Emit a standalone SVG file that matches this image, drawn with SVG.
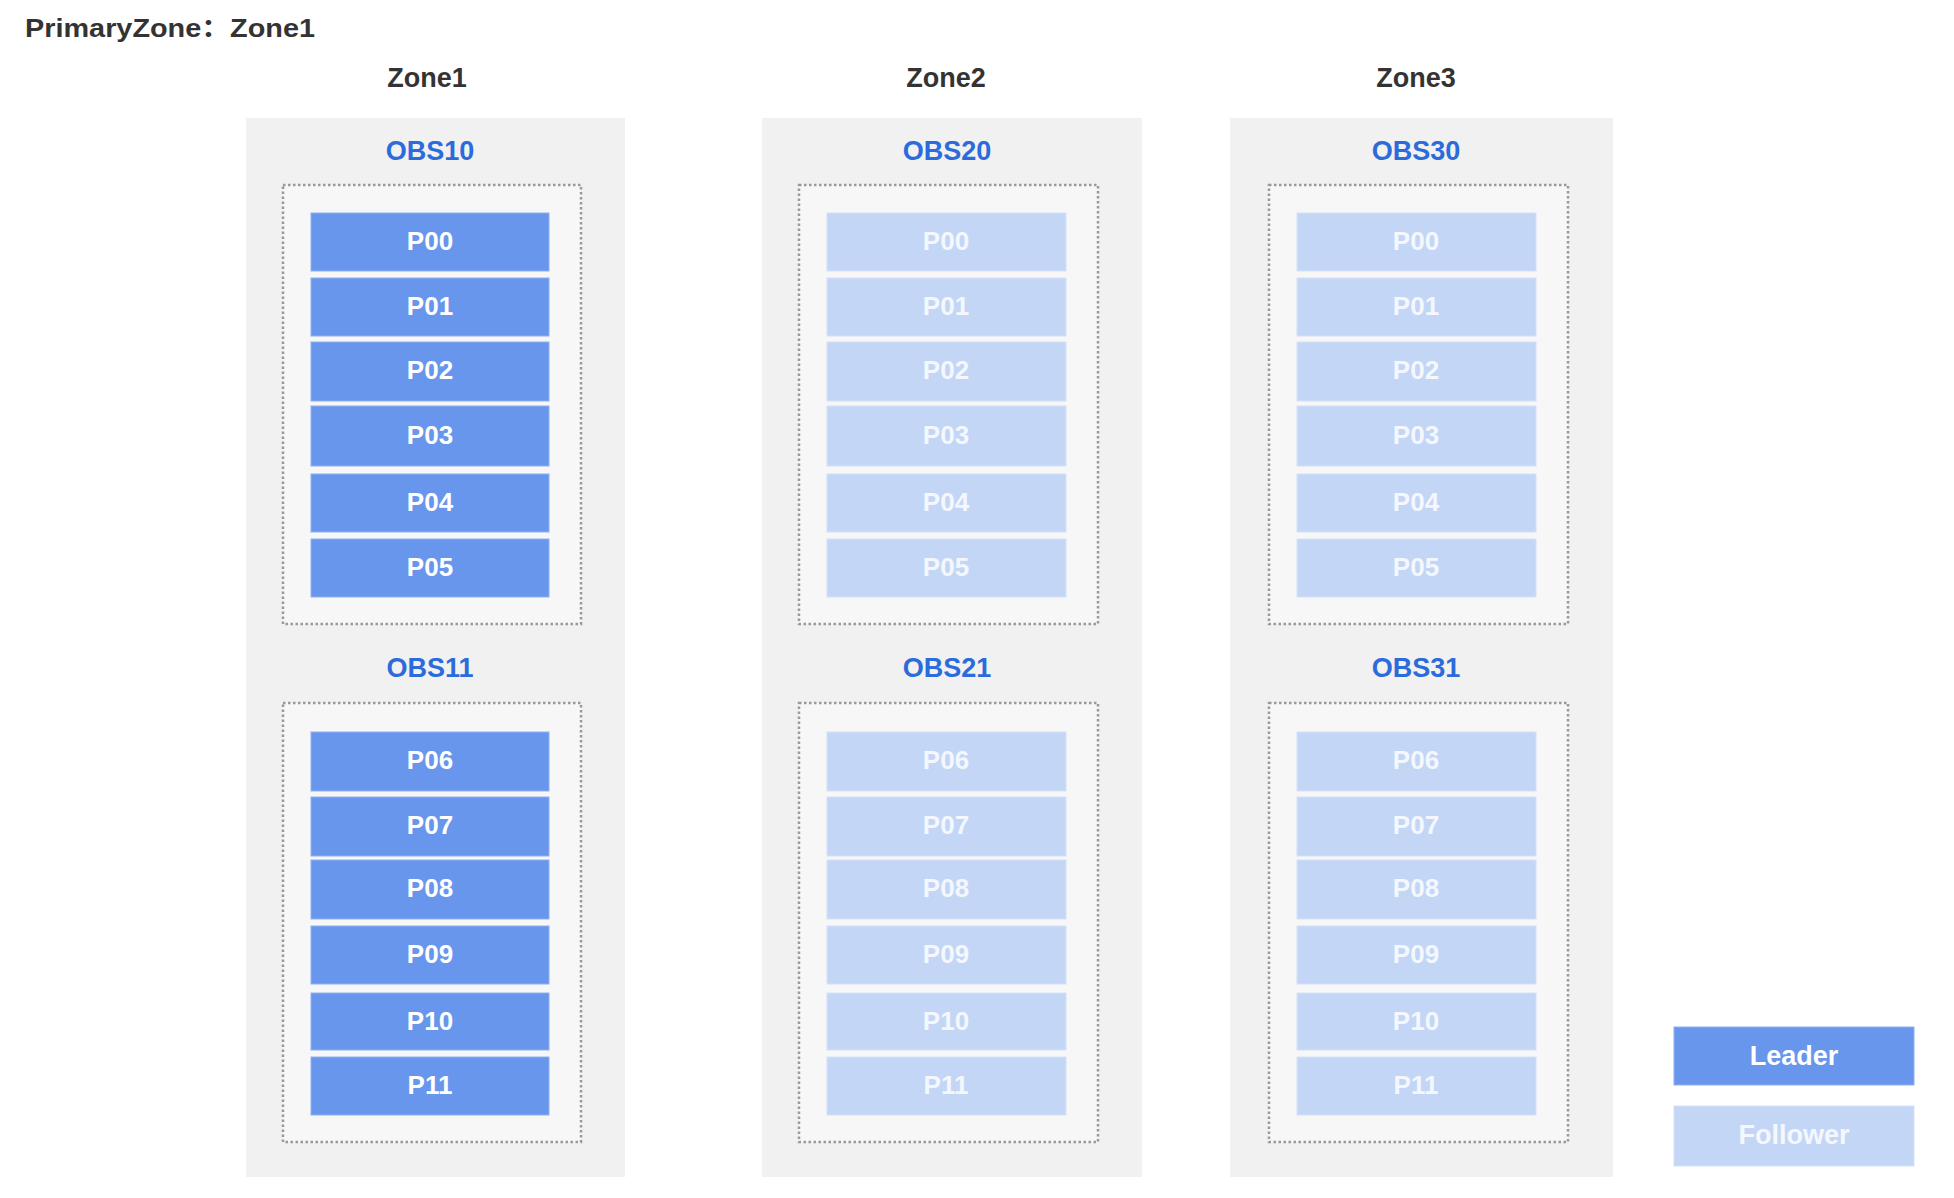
<svg xmlns="http://www.w3.org/2000/svg" width="1954" height="1198" viewBox="0 0 1954 1198">
<style>
text{font-family:"Liberation Sans","Noto Sans CJK SC",Arial,sans-serif;font-weight:bold;text-anchor:middle}
.title{font-size:26px;fill:#333;text-anchor:start}
.zone{font-size:27px;fill:#333}
.obs{font-size:27px;fill:#2b6bdb}
.col{fill:#f1f1f1}
.box{fill:#f7f7f7;stroke:#999;stroke-width:2.5;stroke-dasharray:2.5 2.5}
.L{fill:#6896ec;stroke:#8fb0f0;stroke-width:1}
.F{fill:#c3d6f6;stroke:#d5e2f8;stroke-width:1}
.pt{font-size:26px;fill:#fff}
.ft{font-size:26px;fill:#f4f8fe}
.lg{font-size:27px}
</style>
<rect width="1954" height="1198" fill="#fff"/>
<text class="title" x="25" y="37" textLength="290" lengthAdjust="spacingAndGlyphs">PrimaryZone：Zone1</text>
<g id="connectors"/>

<g id="zone1">
<text class="zone" x="427" y="87">Zone1</text>
<rect class="col" x="246" y="118" width="379" height="1059"/>
<g id="obs10">
<text class="obs" x="430" y="160">OBS10</text>
<rect class="box" x="283" y="185" width="298" height="439"/>
<g id="z1p00"><rect class="L" x="311" y="213" width="238" height="58"/><text class="pt" x="430" y="250">P00</text></g>
<g id="z1p01"><rect class="L" x="311" y="278" width="238" height="58"/><text class="pt" x="430" y="315">P01</text></g>
<g id="z1p02"><rect class="L" x="311" y="342" width="238" height="59"/><text class="pt" x="430" y="379">P02</text></g>
<g id="z1p03"><rect class="L" x="311" y="406" width="238" height="60"/><text class="pt" x="430" y="444">P03</text></g>
<g id="z1p04"><rect class="L" x="311" y="474" width="238" height="58"/><text class="pt" x="430" y="511">P04</text></g>
<g id="z1p05"><rect class="L" x="311" y="539" width="238" height="58"/><text class="pt" x="430" y="576">P05</text></g>
</g>
<g id="obs11">
<text class="obs" x="430" y="677">OBS11</text>
<rect class="box" x="283" y="703" width="298" height="439"/>
<g id="z1p06"><rect class="L" x="311" y="732" width="238" height="59"/><text class="pt" x="430" y="769">P06</text></g>
<g id="z1p07"><rect class="L" x="311" y="797" width="238" height="59"/><text class="pt" x="430" y="834">P07</text></g>
<g id="z1p08"><rect class="L" x="311" y="860" width="238" height="59"/><text class="pt" x="430" y="897">P08</text></g>
<g id="z1p09"><rect class="L" x="311" y="926" width="238" height="58"/><text class="pt" x="430" y="963">P09</text></g>
<g id="z1p10"><rect class="L" x="311" y="993" width="238" height="57"/><text class="pt" x="430" y="1030">P10</text></g>
<g id="z1p11"><rect class="L" x="311" y="1057" width="238" height="58"/><text class="pt" x="430" y="1094">P11</text></g>
</g>
</g>

<g id="zone2">
<text class="zone" x="946" y="87">Zone2</text>
<rect class="col" x="762" y="118" width="380" height="1059"/>
<g id="obs20">
<text class="obs" x="947" y="160">OBS20</text>
<rect class="box" x="799" y="185" width="299" height="439"/>
<g id="z2p00"><rect class="F" x="827" y="213" width="239" height="58"/><text class="ft" x="946" y="250">P00</text></g>
<g id="z2p01"><rect class="F" x="827" y="278" width="239" height="58"/><text class="ft" x="946" y="315">P01</text></g>
<g id="z2p02"><rect class="F" x="827" y="342" width="239" height="59"/><text class="ft" x="946" y="379">P02</text></g>
<g id="z2p03"><rect class="F" x="827" y="406" width="239" height="60"/><text class="ft" x="946" y="444">P03</text></g>
<g id="z2p04"><rect class="F" x="827" y="474" width="239" height="58"/><text class="ft" x="946" y="511">P04</text></g>
<g id="z2p05"><rect class="F" x="827" y="539" width="239" height="58"/><text class="ft" x="946" y="576">P05</text></g>
</g>
<g id="obs21">
<text class="obs" x="947" y="677">OBS21</text>
<rect class="box" x="799" y="703" width="299" height="439"/>
<g id="z2p06"><rect class="F" x="827" y="732" width="239" height="59"/><text class="ft" x="946" y="769">P06</text></g>
<g id="z2p07"><rect class="F" x="827" y="797" width="239" height="59"/><text class="ft" x="946" y="834">P07</text></g>
<g id="z2p08"><rect class="F" x="827" y="860" width="239" height="59"/><text class="ft" x="946" y="897">P08</text></g>
<g id="z2p09"><rect class="F" x="827" y="926" width="239" height="58"/><text class="ft" x="946" y="963">P09</text></g>
<g id="z2p10"><rect class="F" x="827" y="993" width="239" height="57"/><text class="ft" x="946" y="1030">P10</text></g>
<g id="z2p11"><rect class="F" x="827" y="1057" width="239" height="58"/><text class="ft" x="946" y="1094">P11</text></g>
</g>
</g>

<g id="zone3">
<text class="zone" x="1416" y="87">Zone3</text>
<rect class="col" x="1230" y="118" width="383" height="1059"/>
<g id="obs30">
<text class="obs" x="1416" y="160">OBS30</text>
<rect class="box" x="1269" y="185" width="299" height="439"/>
<g id="z3p00"><rect class="F" x="1297" y="213" width="239" height="58"/><text class="ft" x="1416" y="250">P00</text></g>
<g id="z3p01"><rect class="F" x="1297" y="278" width="239" height="58"/><text class="ft" x="1416" y="315">P01</text></g>
<g id="z3p02"><rect class="F" x="1297" y="342" width="239" height="59"/><text class="ft" x="1416" y="379">P02</text></g>
<g id="z3p03"><rect class="F" x="1297" y="406" width="239" height="60"/><text class="ft" x="1416" y="444">P03</text></g>
<g id="z3p04"><rect class="F" x="1297" y="474" width="239" height="58"/><text class="ft" x="1416" y="511">P04</text></g>
<g id="z3p05"><rect class="F" x="1297" y="539" width="239" height="58"/><text class="ft" x="1416" y="576">P05</text></g>
</g>
<g id="obs31">
<text class="obs" x="1416" y="677">OBS31</text>
<rect class="box" x="1269" y="703" width="299" height="439"/>
<g id="z3p06"><rect class="F" x="1297" y="732" width="239" height="59"/><text class="ft" x="1416" y="769">P06</text></g>
<g id="z3p07"><rect class="F" x="1297" y="797" width="239" height="59"/><text class="ft" x="1416" y="834">P07</text></g>
<g id="z3p08"><rect class="F" x="1297" y="860" width="239" height="59"/><text class="ft" x="1416" y="897">P08</text></g>
<g id="z3p09"><rect class="F" x="1297" y="926" width="239" height="58"/><text class="ft" x="1416" y="963">P09</text></g>
<g id="z3p10"><rect class="F" x="1297" y="993" width="239" height="57"/><text class="ft" x="1416" y="1030">P10</text></g>
<g id="z3p11"><rect class="F" x="1297" y="1057" width="239" height="58"/><text class="ft" x="1416" y="1094">P11</text></g>
</g>
</g>

<g id="legend">
<g id="leader"><rect class="L" x="1674" y="1027" width="240" height="58"/><text class="pt lg" x="1794" y="1065">Leader</text></g>
<g id="follower"><rect class="F" x="1674" y="1106" width="240" height="60"/><text class="ft lg" x="1794" y="1144">Follower</text></g>
</g>
</svg>
